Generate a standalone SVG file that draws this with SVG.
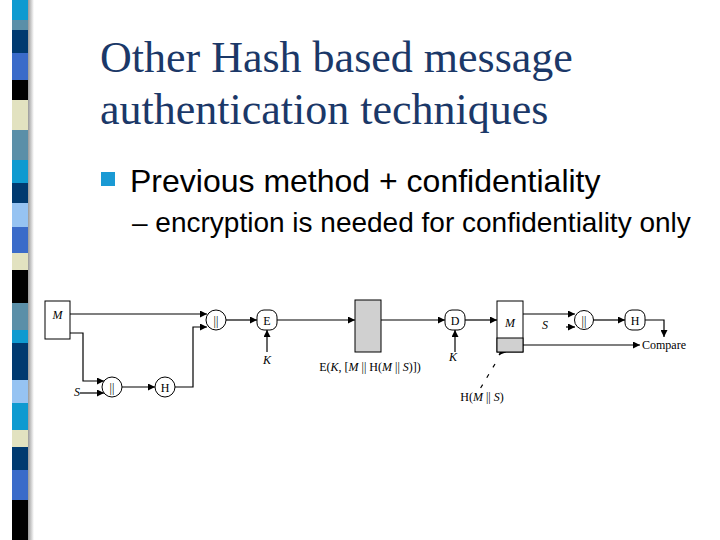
<svg xmlns="http://www.w3.org/2000/svg" width="720" height="540" viewBox="0 0 720 540">
<defs>
<marker id="arr" viewBox="0 0 10 10" refX="10" refY="5" markerWidth="9" markerHeight="7" markerUnits="userSpaceOnUse" orient="auto">
<path d="M0,0 L10,5 L0,10 z" fill="#000"/>
</marker>
<linearGradient id="shadow" x1="0" y1="0" x2="1" y2="0">
<stop offset="0" stop-color="#999"/>
<stop offset="1" stop-color="#fff"/>
</linearGradient>
</defs>
<style>
.ln{fill:none;stroke:#000;stroke-width:1.2}
.op{fill:#fff;stroke:#000;stroke-width:1}
.t{font-family:"Liberation Serif","Times New Roman",serif;font-size:12px;fill:#000}
.i{font-style:italic}
.bar{fill:#444;stroke:none}
.title{font-family:"Liberation Serif","Times New Roman",serif;font-size:44px;fill:#1b3868}
.b1{font-family:"Liberation Sans",Arial,sans-serif;font-size:32px;fill:#000}
.b2{font-family:"Liberation Sans",Arial,sans-serif;font-size:28px;fill:#000}
</style>
<rect width="720" height="540" fill="#fff"/>
<g id="stripe">
<rect x="28" y="0" width="6" height="540" fill="url(#shadow)"/>
<rect x="12" y="0" width="16" height="20" fill="#0e9ad0"/>
<rect x="12" y="20" width="16" height="10" fill="#5b8fa8"/>
<rect x="12" y="30" width="16" height="23" fill="#003a70"/>
<rect x="12" y="53" width="16" height="27" fill="#3a6bc9"/>
<rect x="12" y="80" width="16" height="20" fill="#000"/>
<rect x="12" y="100" width="16" height="30" fill="#e2e2c0"/>
<rect x="12" y="130" width="16" height="30" fill="#5b8fa8"/>
<rect x="12" y="160" width="16" height="23" fill="#0e9ad0"/>
<rect x="12" y="183" width="16" height="20" fill="#003a70"/>
<rect x="12" y="203" width="16" height="24" fill="#96c3f2"/>
<rect x="12" y="227" width="16" height="26" fill="#3a6bc9"/>
<rect x="12" y="253" width="16" height="17" fill="#e2e2c0"/>
<rect x="12" y="270" width="16" height="33" fill="#000"/>
<rect x="12" y="303" width="16" height="27" fill="#5b8fa8"/>
<rect x="12" y="330" width="16" height="13" fill="#0e9ad0"/>
<rect x="12" y="343" width="16" height="37" fill="#003a70"/>
<rect x="12" y="380" width="16" height="23" fill="#96c3f2"/>
<rect x="12" y="403" width="16" height="27" fill="#0e9ad0"/>
<rect x="12" y="430" width="16" height="17" fill="#e2e2c0"/>
<rect x="12" y="447" width="16" height="23" fill="#003a70"/>
<rect x="12" y="470" width="16" height="30" fill="#3a6bc9"/>
<rect x="12" y="500" width="16" height="40" fill="#000"/>
</g>
<g id="title">
<text class="title" x="100" y="72">Other Hash based message</text>
<text class="title" x="100" y="124">authentication techniques</text>
</g>
<g id="bullets">
<rect x="101" y="172" width="14" height="14" fill="#1a9ad4"/>
<text class="b1" x="130" y="192">Previous method + confidentiality</text>
<text class="b2" x="132" y="232">– encryption is needed for confidentiality only</text>
</g>
<g id="connectors">
<polyline class="ln" points="70,314 207,314" marker-end="url(#arr)"/>
<polyline class="ln" points="70,333 83,333 83,381 104,381" marker-end="url(#arr)"/>
<polyline class="ln" points="80,393 104,393" marker-end="url(#arr)"/>
<polyline class="ln" points="122,387 155,387" marker-end="url(#arr)"/>
<polyline class="ln" points="175,387 193,387 193,327 207,327" marker-end="url(#arr)"/>
<polyline class="ln" points="226,320 257,320" marker-end="url(#arr)"/>
<polyline class="ln" points="267,352 267,330" marker-end="url(#arr)"/>
<polyline class="ln" points="277,320 355,320" marker-end="url(#arr)"/>
<polyline class="ln" points="381,320 445,320" marker-end="url(#arr)"/>
<polyline class="ln" points="455,352 455,330" marker-end="url(#arr)"/>
<polyline class="ln" points="465,320 497,320" marker-end="url(#arr)"/>
<polyline class="ln" points="523,314 575,314" marker-end="url(#arr)"/>
<polyline class="ln" points="566,327 575,327" marker-end="url(#arr)"/>
<polyline class="ln" points="593,320 625,320" marker-end="url(#arr)"/>
<polyline class="ln" points="645,320 664,320 664,337" stroke-width="0.8" marker-end="url(#arr)"/>
<polyline class="ln" points="523,345 640,345" marker-end="url(#arr)"/>
<polyline class="ln" points="508,345 499,355" marker-end="url(#arr)"/>
<line class="ln" x1="495" y1="364" x2="480" y2="389" stroke-width="0.8" stroke-dasharray="4,8"/>
</g>
<g id="msg">
<rect x="45" y="301" width="25" height="38" fill="#fff" stroke="#000"/>
<text class="t i" x="57.5" y="319" text-anchor="middle">M</text>
</g>
<g id="concat1"><circle class="op" cx="216" cy="320" r="10"/><text class="t" x="216" y="324.5" text-anchor="middle" fill="#444">||</text></g>
<g id="concat2"><circle class="op" cx="112" cy="387" r="10"/><text class="t" x="112" y="391.5" text-anchor="middle" fill="#444">||</text></g>
<g id="S1"><text class="t i" x="77" y="396" text-anchor="middle">S</text></g>
<g id="hash1"><circle class="op" cx="165" cy="387" r="10"/><text class="t" x="165" y="392" text-anchor="middle">H</text></g>
<g id="encrypt"><rect class="op" x="257" y="310" width="20" height="20" rx="7"/><text class="t" x="267" y="325" text-anchor="middle">E</text></g>
<g id="K1"><text class="t i" x="267" y="364" text-anchor="middle">K</text></g>
<g id="cipher">
<rect x="355" y="300" width="26" height="52" fill="#d0d0d0" stroke="#000"/>
<text class="t" x="370" y="371" text-anchor="middle" font-size="11.5">E(<tspan font-style="italic">K</tspan>, [<tspan font-style="italic">M</tspan> || H(<tspan font-style="italic">M</tspan> || <tspan font-style="italic">S</tspan>)])</text>
</g>
<g id="decrypt"><rect class="op" x="445" y="310" width="20" height="20" rx="7"/><text class="t" x="455" y="325" text-anchor="middle">D</text></g>
<g id="K2"><text class="t i" x="453" y="361" text-anchor="middle">K</text></g>
<g id="msg2">
<rect x="497" y="301" width="26" height="51" fill="#fff" stroke="#000"/>
<rect x="497" y="338" width="26" height="14" fill="#d0d0d0" stroke="#000"/>
<text class="t i" x="510" y="327" text-anchor="middle">M</text>
</g>
<g id="hlabel"><text class="t" x="482" y="401" text-anchor="middle" font-size="11.5">H(<tspan font-style="italic">M</tspan> || <tspan font-style="italic">S</tspan>)</text></g>
<g id="S2"><text class="t i" x="545" y="329" text-anchor="middle">S</text></g>
<g id="concat3"><circle class="op" cx="584" cy="320" r="9.5"/><text class="t" x="584" y="324.5" text-anchor="middle" fill="#444">||</text></g>
<g id="hash2"><rect class="op" x="625" y="310" width="20" height="20" rx="7"/><text class="t" x="635" y="325" text-anchor="middle">H</text></g>
<g id="compare"><text class="t" x="642" y="349" font-size="11.5">Compare</text></g>
</svg>
